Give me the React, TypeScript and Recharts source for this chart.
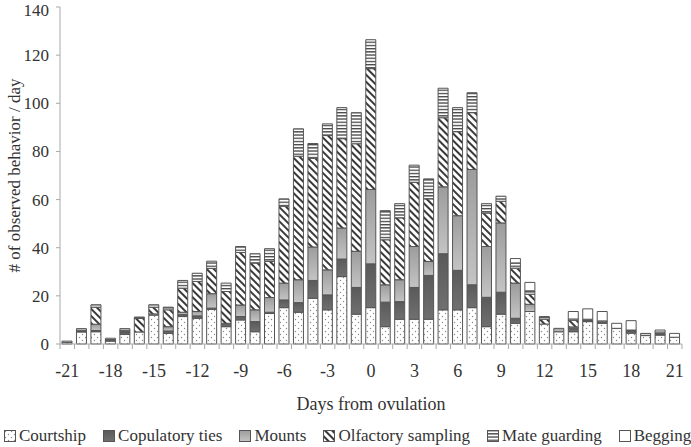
import React from "react";
import { BarChart, Bar, XAxis, YAxis } from "recharts";

// days relative to ovulation
const days = [
  -21, -20, -19, -18, -17, -16, -15, -14, -13, -12, -11, -10, -9, -8, -7, -6, -5, -4, -3, -2, -1,
  0, 1, 2, 3, 4, 5, 6, 7, 8, 9, 10, 11, 12, 13, 14, 15, 16, 17, 18, 19, 20, 21,
];

// values, one per day
const courtship = [
  0.7, 5, 5.1, 1.2, 4, 5, 12, 4.4, 11.4, 10.7, 14.4, 7.2, 10, 5.1, 12.7, 15.1, 13.2, 19, 14.2, 28, 12.4,
  15.1, 7.2, 10.3, 10.3, 10.3, 14.2, 14.2, 15.1, 7.2, 12.4, 8.6, 13.5, 8.3, 5.1, 5.1, 9.3, 8.6, 6.5, 4.5, 3.5, 3.7, 2.8,
];
const copulatoryTies = [
  0, 0.4, 0.5, 0.4, 1, 0, 0, 1, 0.8, 1, 0.5, 1.4, 1.4, 4.2, 0.5, 3.2, 4, 7.4, 6.2, 7.3, 11.1,
  18.2, 10.2, 7.3, 13.2, 18.2, 23.3, 16.4, 9.5, 12.2, 9.1, 2.1, 0, 0, 0, 1.5, 0.6, 0.5, 0, 1, 0, 0.5, 0,
];
const mounts = [
  0, 0, 2.6, 0, 0.4, 0, 0.5, 1.8, 1, 1.8, 6, 0, 4.8, 4.9, 6.1, 7, 9.5, 13.9, 10.4, 12.9, 15,
  30.9, 7.2, 9.1, 17, 5.8, 27.8, 22.7, 47.9, 21.1, 28.8, 14.6, 3, 0, 1.4, 0.5, 0, 0, 0, 0, 0, 0, 0,
];
const olfactory = [
  0, 0, 7.1, 0, 0, 5.6, 2.8, 7, 10, 12.5, 10.5, 13.2, 21.8, 19.4, 15, 31.9, 51.3, 36.8, 55.8, 37.1, 44.7,
  50.2, 18.7, 25.7, 26.7, 26, 28.7, 34.9, 23.6, 13.9, 9, 6.2, 4.2, 2, 0, 2.8, 0, 0, 0, 0, 0, 0, 0,
];
const mateGuarding = [
  0.5, 1, 1, 0.8, 1, 0.6, 1, 1.1, 3.2, 3.4, 3, 3.5, 2.5, 3.9, 5.3, 3.1, 11.4, 6.2, 4.85, 12.9, 12.9,
  12, 12.1, 5.9, 7.1, 8.3, 12.25, 10, 8.3, 3.9, 2.1, 2.2, 1.4, 1.1, 0, 0.5, 0.4, 0.5, 0, 0.3, 0.9, 0.8, 0,
];
const begging = [
  0, 0, 0, 0, 0, 0, 0, 0, 0, 0, 0, 0, 0, 0, 0, 0, 0, 0, 0, 0, 0,
  0, 0, 0, 0, 0, 0, 0, 0, 0, 0, 1.8, 3.5, 0, 0, 3.1, 4.3, 3.9, 2.1, 3.9, 0, 0.8, 1.6,
];

const yTicks = [0, 20, 40, 60, 80, 100, 120, 140];

const data = days.map((d, i) => ({
  day: d,
  courtship: courtship[i],
  ties: copulatoryTies[i],
  mounts: mounts[i],
  olfactory: olfactory[i],
  guarding: mateGuarding[i],
  begging: begging[i],
}));

const series = [
  { key: "courtship", name: "Courtship", fill: "url(#pDots)" },
  { key: "ties", name: "Copulatory ties", fill: "url(#gTies)" },
  { key: "mounts", name: "Mounts", fill: "url(#gMounts)" },
  { key: "olfactory", name: "Olfactory sampling", fill: "url(#pDiag)" },
  { key: "guarding", name: "Mate guarding", fill: "url(#pHoriz)" },
  { key: "begging", name: "Begging", fill: "#ffffff" },
];

const FONT = "'Liberation Serif', 'Times New Roman', serif";
const BAND = 621 / days.length;
const AXIS = "#a8a8a8";
const EDGE = "#555";

const XTick = (props: any) => {
  const { x, y, payload, index } = props;
  const left = x - BAND / 2;
  return (
    <g>
      <line x1={left} x2={left} y1={y - 5} y2={y} stroke={AXIS} />
      {index === days.length - 1 && (
        <line x1={x + BAND / 2} x2={x + BAND / 2} y1={y - 5} y2={y} stroke={AXIS} />
      )}
      {index % 3 === 0 && (
        <text x={x} y={y + 28} textAnchor="middle" fontSize={18} fill="#333" style={{ fontFamily: FONT }}>
          {payload.value}
        </text>
      )}
    </g>
  );
};

const Patterns = () => (
  <defs>
    <pattern id="pDots" width="6" height="6" patternUnits="userSpaceOnUse">
      <rect width="6" height="6" fill="#fff" />
      <circle cx="1.5" cy="1.5" r="0.7" fill="#888" />
      <circle cx="4.5" cy="4.5" r="0.7" fill="#888" />
    </pattern>
    <linearGradient id="gTies" x1="0" y1="0" x2="0" y2="1">
      <stop offset="0" stopColor="#5a5a5a" />
      <stop offset="1" stopColor="#707070" />
    </linearGradient>
    <linearGradient id="gMounts" x1="0" y1="0" x2="0" y2="1">
      <stop offset="0" stopColor="#9c9c9c" />
      <stop offset="1" stopColor="#c4c4c4" />
    </linearGradient>
    <pattern id="pDiag" width="5" height="5" patternUnits="userSpaceOnUse" patternTransform="rotate(-45)">
      <rect width="5" height="5" fill="#fff" />
      <rect width="2" height="5" fill="#3a3a3a" />
    </pattern>
    <pattern id="pHoriz" width="4" height="3.2" patternUnits="userSpaceOnUse">
      <rect width="4" height="3.2" fill="#fff" />
      <rect width="4" height="1.3" fill="#444" />
    </pattern>
  </defs>
);

export default function App() {
  return (
    <div
      style={{
        position: "absolute",
        left: 0,
        top: 0,
        width: 691,
        height: 447,
        background: "#fff",
        fontFamily: FONT,
      }}
    >
      <BarChart
        width={691}
        height={447}
        data={data}
        barSize={10}
        style={{ fontFamily: FONT }}
        margin={{ top: 7, right: 9, left: 0, bottom: 33 }}
      >
        <Patterns />
        <XAxis
          dataKey="day"
          interval={0}
          tick={<XTick />}
          tickLine={false}
          tickSize={5}
          tickMargin={0}
          height={70}
          axisLine={{ stroke: AXIS }}
          label={{
            value: "Days from ovulation",
            position: "insideBottom",
            offset: 4,
            style: { fontSize: 18, fill: "#333", fontFamily: FONT },
          }}
        />
        <YAxis
          width={60}
          domain={[0, 140]}
          ticks={yTicks}
          tickSize={4}
          tickMargin={7}
          axisLine={{ stroke: AXIS }}
          tickLine={{ stroke: AXIS }}
          tick={{ fontSize: 17, fill: "#333", style: { fontFamily: FONT } }}
          label={{
            value: "# of observed behavior / day",
            angle: -90,
            position: "center",
            dx: -16,
            style: { fontSize: 17, fill: "#333", fontFamily: FONT, textAnchor: "middle" },
          }}
        />
        {series.map((s) => (
          <Bar
            key={s.key}
            dataKey={s.key}
            name={s.name}
            stackId="a"
            fill={s.fill}
            stroke={EDGE}
            strokeWidth={1}
            isAnimationActive={false}
          />
        ))}
      </BarChart>
      <div
        style={{
          position: "absolute",
          left: 4,
          top: 426,
          display: "flex",
          gap: 17,
          fontFamily: FONT,
          fontSize: 17,
          color: "#333",
          whiteSpace: "nowrap",
        }}
      >
        {series.map((s) => (
          <div key={s.key} style={{ display: "flex", alignItems: "center", gap: 3 }}>
            <svg width={12} height={12}>
              <rect x={0.5} y={0.5} width={11} height={11} fill={s.fill} stroke={EDGE} />
            </svg>
            <span>{s.name}</span>
          </div>
        ))}
      </div>
    </div>
  );
}
